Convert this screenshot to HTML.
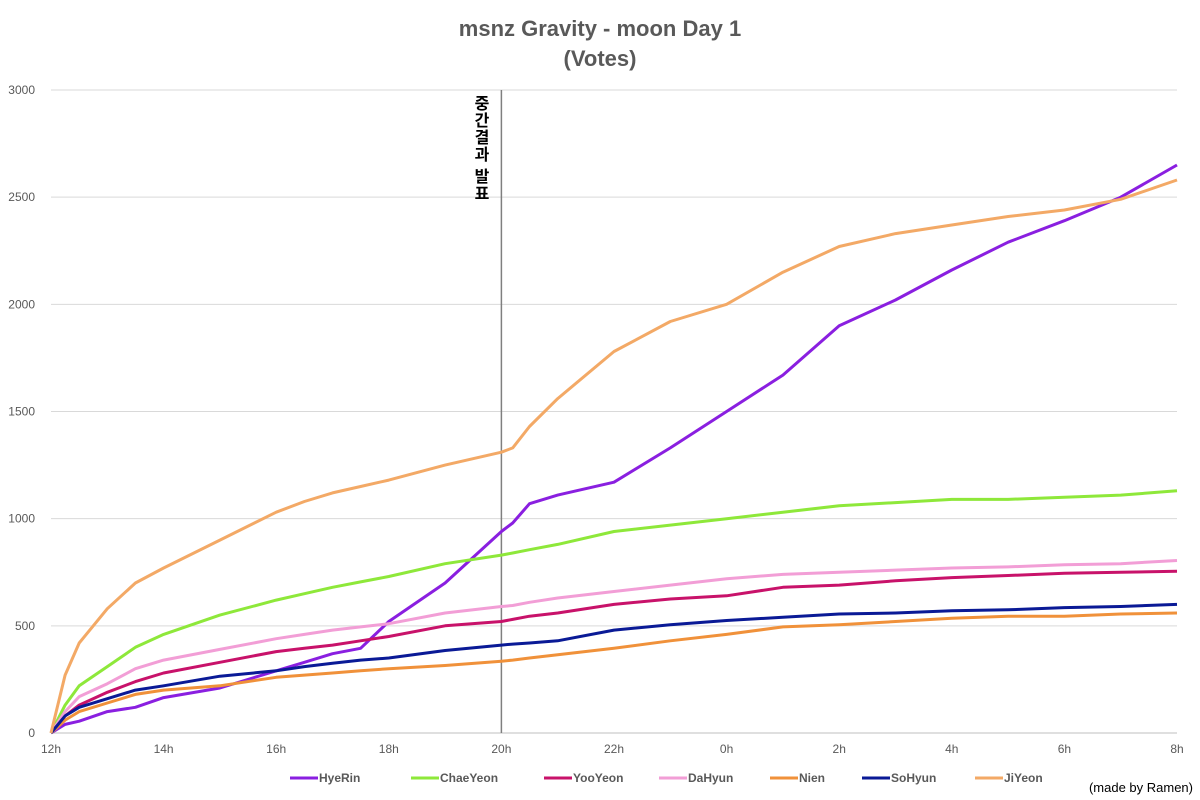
<!DOCTYPE html>
<html><head><meta charset="utf-8"><style>
body{margin:0;background:#fff;font-family:"Liberation Sans","Noto Sans CJK KR",sans-serif;position:relative;width:1200px;height:800px;overflow:hidden}
#ann{position:absolute;left:472px;top:94px;width:20px;font-size:16px;font-weight:bold;line-height:17px;text-align:center;color:#000;font-family:"Noto Sans CJK KR",sans-serif}
</style></head><body>
<svg id="chart" width="1200" height="800" xmlns="http://www.w3.org/2000/svg" style="display:block">
<rect width="1200" height="800" fill="#fff"/>
<text x="600" y="36" text-anchor="middle" font-size="22" font-weight="bold" fill="#595959">msnz Gravity - moon Day 1</text>
<text x="600" y="66" text-anchor="middle" font-size="22" font-weight="bold" fill="#595959">(Votes)</text>
<g id="grid"></g><g id="lines"></g><g id="legend"></g>
<text x="1193" y="792" text-anchor="end" font-size="13" fill="#000">(made by Ramen)</text>
</svg>
<div id="ann">중<br>간<br>결<br>과<br><span style="display:block;height:5px"></span>발<br>표</div>
<script>
const times=[0,0.25,0.5,1,1.5,2,3,4,4.5,5,5.5,6,7,8,8.2,8.5,9,10,11,12,13,14,15,16,17,18,19,20];
const xTicks=["12h","14h","16h","18h","20h","22h","0h","2h","4h","6h","8h"];
const yTicks=[0,500,1000,1500,2000,2500,3000];
const names=["HyeRin","ChaeYeon","YooYeon","DaHyun","Nien","SoHyun","JiYeon"];
const colors=["#8A1FE0","#8EE83A","#C8126A","#F29ED6","#F0913A","#0A1A96","#F3A966"];
const hyeRin=[0,40,55,100,120,165,210,290,330,370,395,520,700,940,980,1070,1110,1170,1330,1500,1670,1900,2020,2160,2290,2390,2500,2650];
const chaeYeon=[0,130,220,310,400,460,550,620,650,680,705,730,790,830,840,855,880,940,970,1000,1030,1060,1075,1090,1090,1100,1110,1130];
const yooYeon=[0,80,130,190,240,280,330,380,395,410,430,450,500,520,530,545,560,600,625,640,680,690,710,725,735,745,750,755];
const daHyun=[0,100,170,230,300,340,390,440,460,480,495,510,560,590,595,610,630,660,690,720,740,750,760,770,775,785,790,805];
const nien=[0,60,100,140,180,200,220,260,270,280,290,300,315,335,340,350,365,395,430,460,495,505,520,535,545,545,555,560];
const soHyun=[0,80,120,160,200,220,265,290,310,325,340,350,385,410,415,420,430,480,505,525,540,555,560,570,575,585,590,600];
const jiYeon=[0,270,420,580,700,770,900,1030,1080,1120,1150,1180,1250,1310,1330,1430,1560,1780,1920,2000,2150,2270,2330,2370,2410,2440,2490,2580];
const series=[hyeRin,chaeYeon,yooYeon,daHyun,nien,soHyun,jiYeon];
const NS="http://www.w3.org/2000/svg";
const X0=51,X1=1177,Y0=733,Y1=90;
const xs=t=>X0+(X1-X0)*t/20, ys=v=>Y0-(Y0-Y1)*v/3000;
function mk(tag,at,parent,txt){const e=document.createElementNS(NS,tag);for(const k in at)e.setAttribute(k,at[k]);if(txt!==undefined)e.textContent=txt;parent.appendChild(e);return e;}
const grid=document.getElementById('grid');
yTicks.forEach(v=>{
 const l=mk('line',{x1:X0,x2:X1,y1:ys(v),y2:ys(v),stroke:v===0?'#bfbfbf':'#d9d9d9','stroke-width':1},grid);
 
 
 const t=mk('text',{x:35,y:ys(v)+4,'text-anchor':'end','font-size':12,fill:'#595959'},grid,String(v));
 
 
});
xTicks.forEach((s,i)=>{
 const t=mk('text',{x:xs(i*2),y:753,'text-anchor':'middle','font-size':12,fill:'#595959'},grid,s);
 
 
});
const vl=mk('line',{x1:xs(8),x2:xs(8),y1:Y1,y2:Y0,stroke:'#7f7f7f','stroke-width':1.5},grid);


const lines=document.getElementById('lines');
series.forEach((d,i)=>{
 const p=mk('polyline',{points:d.map((v,j)=>xs(times[j]).toFixed(1)+','+ys(v).toFixed(1)).join(' '),fill:'none',stroke:colors[i],'stroke-width':3,'stroke-linejoin':'round'},lines);
 
 
});
const lg=document.getElementById('legend');
const lx=[290,411,544,659,770,862,975];
names.forEach((n,i)=>{
 const g=mk('g',{},lg);
 
 
 mk('line',{x1:lx[i],x2:lx[i]+28,y1:778,y2:778,stroke:colors[i],'stroke-width':3},g);
 mk('text',{x:lx[i]+29,y:782,'font-size':12,'font-weight':'bold',fill:'#595959'},g,n);
});
</script>
</body></html>
